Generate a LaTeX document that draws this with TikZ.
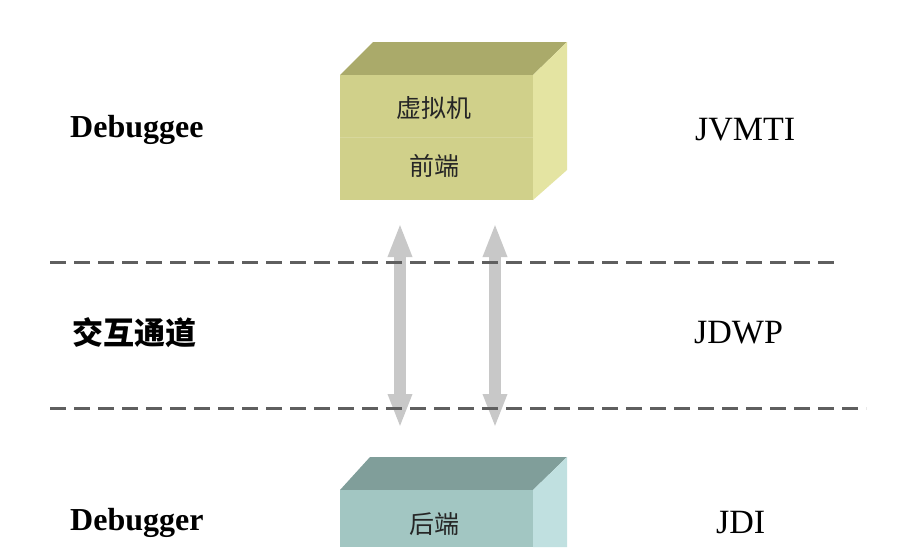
\documentclass[tikz,border=0pt]{standalone}
\usepackage{fontspec}
\setmainfont{Liberation Serif}
\newfontfamily\cjk{Noto Sans CJK SC}
\usetikzlibrary{arrows.meta}
\definecolor{olivefront}{RGB}{208,208,138}
\definecolor{olivetop}{RGB}{170,170,106}
\definecolor{oliveside}{RGB}{228,228,162}
\definecolor{tealfront}{RGB}{162,198,194}
\definecolor{tealtop}{RGB}{128,158,154}
\definecolor{tealside}{RGB}{192,224,224}
\definecolor{arrowgrey}{RGB}{200,200,200}
\definecolor{dashgrey}{RGB}{95,95,95}
\tikzset{
  lbl/.style={font=\fontsize{34}{34}\selectfont, anchor=west, inner sep=0pt},
  boldlbl/.style={font=\bfseries\fontsize{32}{32}\selectfont, anchor=west, inner sep=0pt},
  boxtxt/.style={font=\cjk\fontsize{25}{25}\selectfont, text=black!85, inner sep=0pt},
  sep/.style={draw=dashgrey, line width=3pt, dash pattern=on 16pt off 8pt},
  fat/.style={draw=arrowgrey, line width=12pt, {Triangle[width=22pt,length=34pt]}-{Triangle[width=22pt,length=34pt]}},
}
\begin{document}
\begin{tikzpicture}[x=1pt,y=-1pt]
\useasboundingbox[fill=white] (0,0) rectangle (920,547);
% top box (virtual machine / front end)
\fill[olivetop] (340,75) -- (373,42) -- (567,42) -- (533,75) -- cycle;
\fill[oliveside] (533,75) -- (567,42) -- (567,170) -- (533,200) -- cycle;
\node[fill=olivefront, minimum width=193pt, minimum height=125pt, inner sep=0pt, anchor=north west] (vm) at (340,75) {};
\draw[olivefront!85!white, line width=1pt] (340,137) -- (533,137);
\node[boxtxt] (vmt) at (434,108) {虚拟机};
\node[boxtxt] (fe) at (434,166) {前端};
% bottom box (back end)
\fill[tealtop] (340,490) -- (370,457) -- (567,457) -- (533,490) -- cycle;
\fill[tealside] (533,490) -- (567,457) -- (567,547) -- (533,547) -- cycle;
\node[fill=tealfront, minimum width=193pt, minimum height=57pt, inner sep=0pt, anchor=north west] (be) at (340,490) {};
\node[boxtxt] (bet) at (434,524) {后端};
% arrows
\coordinate (a1t) at (400,223);
\coordinate (a1b) at (400,428);
\coordinate (a2t) at (495,223);
\coordinate (a2b) at (495,428);
\draw[fat] (a1t) -- (a1b);
\draw[fat] (a2t) -- (a2b);
% dashed separators
\coordinate (s1l) at (50,262);
\coordinate (s1r) at (838,262);
\coordinate (s2l) at (50,408);
\coordinate (s2r) at (866,408);
\draw[sep] (s1l) -- (s1r);
\draw[sep] (s2l) -- (s2r);
% labels
\node[boldlbl] (dee) at (70,130) {Debuggee};
\node[lbl] (jvmti) at (695,130) {JVMTI};
\node[lbl, font=\cjk\bfseries\fontsize{31}{31}\selectfont] (chan) at (72,333) {交互通道};
\node[lbl] (jdwp) at (694,333) {JDWP};
\node[boldlbl] (der) at (70,523) {Debugger};
\node[lbl] (jdi) at (716,523) {JDI};
\end{tikzpicture}
\end{document}
